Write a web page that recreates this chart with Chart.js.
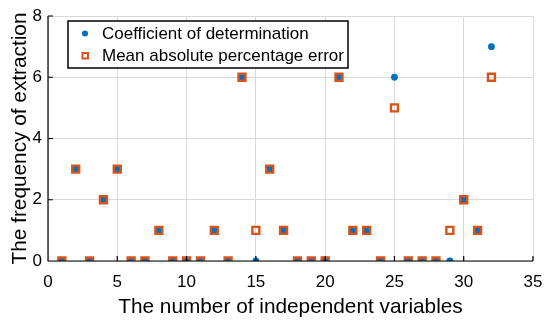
<!DOCTYPE html>
<html><head><meta charset="utf-8">
<script src="https://cdn.jsdelivr.net/npm/chart.js@4"></script>
<style>html,body{margin:0;padding:0;background:#fff}</style>
</head><body><canvas id="c" width="550" height="324"></canvas>
<script>
const xValues = [1,2,3,4,5,6,7,8,9,10,11,12,13,14,15,16,17,18,19,20,21,22,23,24,25,26,27,28,29,30,31,32];
const coefDetermination = [0,3,0,2,3,0,0,1,0,0,0,1,0,6,0,3,1,0,0,0,6,1,1,0,6,0,0,0,0,2,1,7];
const meanAbsPctError  = [0,3,0,2,3,0,0,1,0,0,0,1,0,6,1,3,1,0,0,0,6,1,1,0,5,0,0,0,1,2,1,6];
const seriesLabels = ['Coefficient of determination','Mean absolute percentage error'];
const xTicks = [0,5,10,15,20,25,30,35];
const yTicks = [0,2,4,6,8];

const BLUE = '#0072BD', ORANGE = '#D95319';
const FONT = "'Liberation Sans', Arial, sans-serif";

const axesPlugin = {
  id: 'axesPlugin',
  afterDatasetsDraw(chart) {
    const {ctx, chartArea: a, scales: {x, y}} = chart;
    ctx.save();
    ctx.strokeStyle = '#000';
    ctx.lineWidth = 1.2;
    ctx.beginPath();
    ctx.moveTo(a.left, a.top); ctx.lineTo(a.left, a.bottom); ctx.lineTo(a.right, a.bottom);
    xTicks.forEach(v => { const px = x.getPixelForValue(v); ctx.moveTo(px, a.bottom); ctx.lineTo(px, a.bottom - 5); });
    yTicks.forEach(v => { const py = y.getPixelForValue(v); ctx.moveTo(a.left, py); ctx.lineTo(a.left + 5, py); });
    ctx.stroke();
    // legend
    const lx = 68, ly = 21, lw = 280, lh = 47;
    ctx.fillStyle = '#fff';
    ctx.fillRect(lx, ly, lw, lh);
    ctx.lineWidth = 1.5;
    ctx.strokeRect(lx, ly, lw, lh);
    ctx.font = '17px ' + FONT;
    ctx.fillStyle = '#000';
    ctx.textBaseline = 'middle';
    ctx.fillText(chart.data.datasets[0].label, 102, 34.5);
    ctx.fillText(chart.data.datasets[1].label, 102, 56.5);
    ctx.fillStyle = BLUE;
    ctx.beginPath(); ctx.arc(85, 33.5, 3, 0, Math.PI*2); ctx.fill();
    ctx.strokeStyle = ORANGE; ctx.lineWidth = 2;
    ctx.strokeRect(82.5, 53, 5.5, 5.5);
    ctx.restore();
  }
};

new Chart(document.getElementById('c'), {
  type: 'scatter',
  data: {
    datasets: [
      { label: seriesLabels[0], data: xValues.map((v,i)=>({x:v,y:coefDetermination[i]})),
        pointStyle:'circle', pointRadius:3.4, backgroundColor:BLUE, borderColor:BLUE, borderWidth:0, order:1 },
      { label: seriesLabels[1], data: xValues.map((v,i)=>({x:v,y:meanAbsPctError[i]})),
        pointStyle:'rect', pointRadius:4.9, backgroundColor:'rgba(0,0,0,0)', borderColor:ORANGE, borderWidth:2.4, order:0 }
    ]
  },
  options: {
    responsive:false, animation:false, devicePixelRatio:1,
    layout:{padding:{top:16,right:17,left:0,bottom:0}},
    plugins:{legend:{display:false}, tooltip:{enabled:false}},
    scales:{
      x:{ type:'linear', min:0, max:35,
        afterBuildTicks(s){ s.ticks = xTicks.map(v=>({value:v})); },
        afterFit(s){ s.height = 63; s.paddingLeft = 0; s.paddingRight = 0; },
        grid:{color:'#d9d9d9', lineWidth:1, drawTicks:false},
        border:{display:false},
        ticks:{color:'#000', font:{family:FONT,size:17}, padding:11, maxRotation:0},
        title:{display:true, text:'The number of independent variables', color:'#000', font:{family:FONT,size:20.8}, padding:{top:5}}
      },
      y:{ type:'linear', min:0, max:8,
        afterBuildTicks(s){ s.ticks = yTicks.map(v=>({value:v})); },
        afterFit(s){ s.width = 48; s.paddingTop = 0; s.paddingBottom = 0; },
        grid:{color:'#d9d9d9', lineWidth:1, drawTicks:false},
        border:{display:false},
        ticks:{color:'#000', font:{family:FONT,size:17}, padding:6},
        title:{display:true, text:'The frequency of extraction', color:'#000', font:{family:FONT,size:20.8}, padding:{top:8}}
      }
    }
  },
  plugins:[axesPlugin]
});
</script></body></html>
